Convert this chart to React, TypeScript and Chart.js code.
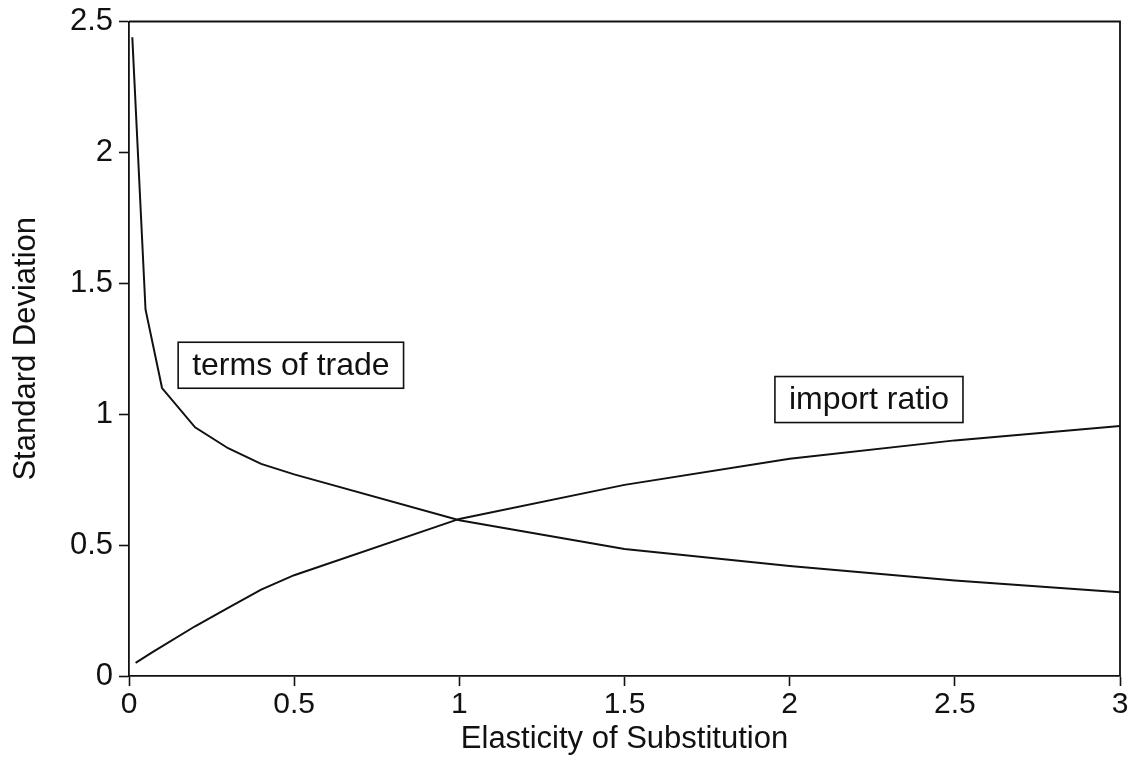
import React, { useEffect, useRef } from "react";
import { Chart, registerables } from "chart.js";

Chart.register(...registerables);

// Data
const termsOfTradeX = [0.01, 0.05, 0.1, 0.2, 0.3, 0.4, 0.5, 1, 1.5, 2, 2.5, 3];
const termsOfTradeY = [2.44, 1.4, 1.1, 0.95, 0.87, 0.81, 0.77, 0.595, 0.485, 0.42, 0.365, 0.32];

const importRatioX = [0.02, 0.07, 0.2, 0.3, 0.4, 0.5, 1, 1.5, 2, 2.5, 3];
const importRatioY = [0.05, 0.09, 0.19, 0.26, 0.33, 0.385, 0.6, 0.73, 0.83, 0.9, 0.955];

const xTickLabels = ["0", "0.5", "1", "1.5", "2", "2.5", "3"];
const yTickLabels = ["0", "0.5", "1", "1.5", "2", "2.5"];

const seriesNames = ["terms of trade", "import ratio"];
// label anchors (data units, centre of the boxed text)
const labelX = [0.49, 2.24];
const labelY = [1.187, 1.056];

const xTitle = "Elasticity of Substitution";
const yTitle = "Standard Deviation";

const FONT = "'Liberation Sans', Arial, Helvetica, sans-serif";
const INK = "#111111";

const boxPlugin = {
  id: "frameAndLabels",
  afterDraw(chart: any) {
    const { ctx, chartArea, scales } = chart;
    ctx.save();
    ctx.strokeStyle = INK;
    ctx.lineWidth = 1.8;
    ctx.beginPath();
    ctx.moveTo(chartArea.left, chartArea.top);
    ctx.lineTo(chartArea.right, chartArea.top);
    ctx.lineTo(chartArea.right, chartArea.bottom);
    ctx.stroke();

    ctx.font = `32px ${FONT}`;
    ctx.textAlign = "center";
    ctx.textBaseline = "middle";
    ctx.fillStyle = INK;
    ctx.lineWidth = 1.6;
    seriesNames.forEach((name, i) => {
      const cx = scales.x.getPixelForValue(labelX[i]);
      const cy = scales.y.getPixelForValue(labelY[i]);
      const w = ctx.measureText(name).width + 28;
      const h = 46;
      ctx.fillStyle = "#ffffff";
      ctx.fillRect(cx - w / 2, cy - h / 2, w, h);
      ctx.strokeRect(cx - w / 2, cy - h / 2, w, h);
      ctx.fillStyle = INK;
      ctx.fillText(name, cx, cy + 1);
    });
    ctx.restore();
  },
};

export default function App() {
  const ref = useRef<HTMLCanvasElement>(null);

  useEffect(() => {
    if (!ref.current) return;
    const chart = new Chart(ref.current, {
      type: "line",
      data: {
        datasets: [
          {
            label: seriesNames[0],
            data: termsOfTradeX.map((x, i) => ({ x, y: termsOfTradeY[i] })),
            borderColor: INK,
            borderWidth: 2,
            pointRadius: 0,
            tension: 0,
            fill: false,
          },
          {
            label: seriesNames[1],
            data: importRatioX.map((x, i) => ({ x, y: importRatioY[i] })),
            borderColor: INK,
            borderWidth: 2,
            pointRadius: 0,
            tension: 0,
            fill: false,
          },
        ],
      },
      options: {
        animation: false,
        responsive: false,
        devicePixelRatio: 1,
        layout: { padding: { top: 19, right: 16, left: 0, bottom: 0 } },
        plugins: {
          legend: { display: false },
          tooltip: { enabled: false },
          title: { display: false },
        },
        scales: {
          x: {
            type: "linear",
            min: 0,
            max: 3,
            afterFit: (s: any) => {
              s.height = 87;
            },
            afterBuildTicks: (s: any) => {
              s.ticks = xTickLabels.map((t) => ({ value: parseFloat(t) }));
            },
            ticks: {
              color: INK,
              font: { family: FONT, size: 30 },
              padding: 1,
              maxRotation: 0,
              autoSkip: false,
              callback: (v: any, i: number) => xTickLabels[i],
            },
            grid: {
              display: true,
              drawOnChartArea: false,
              drawTicks: true,
              tickLength: 10,
              tickWidth: 1.6,
              tickColor: INK,
            },
            border: { display: true, color: INK, width: 1.8 },
            title: {
              display: true,
              text: xTitle,
              color: INK,
              font: { family: FONT, size: 31 },
              padding: { top: 0, bottom: 5 },
            },
          },
          y: {
            type: "linear",
            min: 0,
            max: 2.5,
            afterFit: (s: any) => {
              s.width = 129;
            },
            afterBuildTicks: (s: any) => {
              s.ticks = yTickLabels.map((t) => ({ value: parseFloat(t) }));
            },
            ticks: {
              color: INK,
              font: { family: FONT, size: 31, lineHeight: 1 },
              padding: 6,
              autoSkip: false,
              callback: (v: any, i: number) => yTickLabels[i],
            },
            grid: {
              display: true,
              drawOnChartArea: false,
              drawTicks: true,
              tickLength: 10,
              tickWidth: 1.6,
              tickColor: INK,
            },
            border: { display: true, color: INK, width: 1.8 },
            title: {
              display: true,
              text: yTitle,
              color: INK,
              font: { family: FONT, size: 31 },
              padding: { top: 8, bottom: 0 },
            },
          },
        },
      },
      plugins: [boxPlugin],
    });
    return () => chart.destroy();
  }, []);

  return (
    <div style={{ position: "fixed", left: 0, top: 0, width: 1136, height: 763, background: "#fff" }}>
      <canvas ref={ref} width={1136} height={763} style={{ display: "block" }} />
    </div>
  );
}
